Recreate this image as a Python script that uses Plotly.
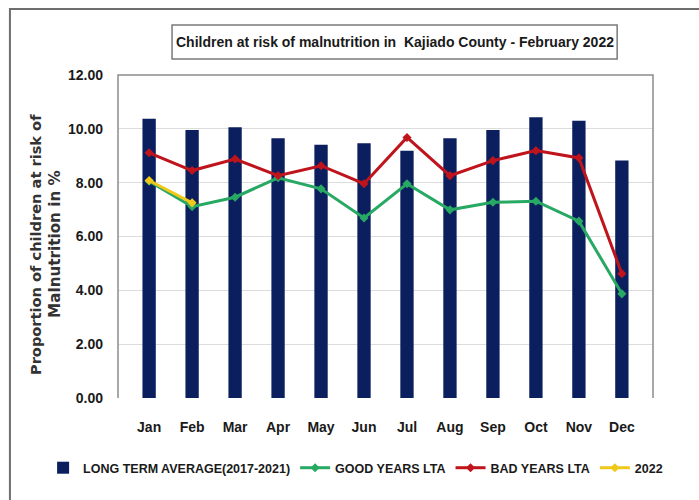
import plotly.graph_objects as go

months = ["Jan", "Feb", "Mar", "Apr", "May", "Jun", "Jul", "Aug", "Sep", "Oct", "Nov", "Dec"]
long_term_avg = [10.37, 9.96, 10.06, 9.65, 9.41, 9.46, 9.19, 9.65, 9.96, 10.43, 10.30, 8.82]
good_years_lta = [8.05, 7.11, 7.46, 8.18, 7.77, 6.69, 7.96, 6.99, 7.27, 7.31, 6.57, 3.87]
bad_years_lta = [9.11, 8.45, 8.88, 8.26, 8.63, 7.96, 9.68, 8.26, 8.82, 9.19, 8.92, 4.62]
year_2022 = [8.08, 7.25]
months_2022 = months[:2]
y_ticks = [0, 2, 4, 6, 8, 10, 12]

BODY = "Liberation Sans, Arial, sans-serif"
AXIS_TITLE = "DejaVu Sans, Verdana, sans-serif"
INK = "#1a1a1a"

fig = go.Figure()
fig.add_trace(go.Bar(
    x=months, y=long_term_avg, name="LONG TERM AVERAGE(2017-2021)",
    marker=dict(color="#0b1f5e", line=dict(width=0)),
))
fig.add_trace(go.Scatter(
    x=months, y=good_years_lta, name="GOOD YEARS LTA", mode="lines+markers",
    line=dict(color="#27a863", width=3), marker=dict(symbol="diamond", size=7, color="#27a863"),
))
fig.add_trace(go.Scatter(
    x=months, y=bad_years_lta, name="BAD YEARS LTA", mode="lines+markers",
    line=dict(color="#c0141c", width=3), marker=dict(symbol="diamond", size=7, color="#c0141c"),
))
fig.add_trace(go.Scatter(
    x=months_2022, y=year_2022, name="2022", mode="lines+markers",
    line=dict(color="#f0c81a", width=3), marker=dict(symbol="diamond", size=7, color="#f0c81a"),
))

fig.update_layout(
    width=699, height=500,
    margin=dict(l=118, r=46, t=75, b=102),
    paper_bgcolor="white", plot_bgcolor="white",
    bargap=0.69,
    showlegend=True,
    legend=dict(
        orientation="h", x=-0.14, xanchor="left", y=-0.217, yanchor="middle",
        font=dict(family=BODY, size=12.5, color=INK, weight="bold"),
        itemwidth=30, tracegroupgap=0, traceorder="normal",
    ),
    xaxis=dict(
        tickfont=dict(family=BODY, size=14, color=INK, weight="bold"),
        showgrid=False, showline=False, ticks="", ticklabelstandoff=19,
    ),
    yaxis=dict(
        range=[0, 12], tickvals=y_ticks, tickformat=".2f",
        tickfont=dict(family=BODY, size=14, color=INK, weight="bold"),
        showgrid=True, gridcolor="#dcdcdc", gridwidth=1,
        zeroline=False, showline=False, ticks="", ticklabelstandoff=14,
    ),
    shapes=[
        # outer chart frame
        dict(type="rect", xref="paper", yref="paper", x0=-0.202, x1=1.2, y0=-0.5, y1=1.204,
             line=dict(color="#6e6e6e", width=2), fillcolor="rgba(0,0,0,0)", layer="below"),
        # plot area border (left, top, right)
        dict(type="path", xref="paper", yref="paper",
             path="M 0 0 L 0 1 L 1 1 L 1 0", line=dict(color="#8c8c8c", width=1.5)),
        # title box
        dict(type="rect", xref="paper", yref="paper", x0=0.101, x1=0.933, y0=1.0495, y1=1.155,
             line=dict(color="#7a7a7a", width=1.5), fillcolor="white"),
    ],
    annotations=[
        dict(text="Children at risk of malnutrition in  Kajiado County - February 2022",
             xref="paper", yref="paper", x=0.517, y=1.102, xanchor="center", yanchor="middle",
             showarrow=False, font=dict(family=BODY, size=14, color=INK, weight="bold")),
        # y-axis title, one annotation per line
        dict(text="Proportion of children at risk of",
             xref="paper", yref="paper", x=-0.153, y=0.474, xanchor="center", yanchor="middle",
             textangle=-90, showarrow=False,
             font=dict(family=AXIS_TITLE, size=14.6, color="#333333", weight="bold")),
        dict(text="Malnutrition in %",
             xref="paper", yref="paper", x=-0.119, y=0.478, xanchor="center", yanchor="middle",
             textangle=-90, showarrow=False,
             font=dict(family=AXIS_TITLE, size=15.2, color="#333333", weight="bold")),
    ],
)

fig.write_html("out.html")
